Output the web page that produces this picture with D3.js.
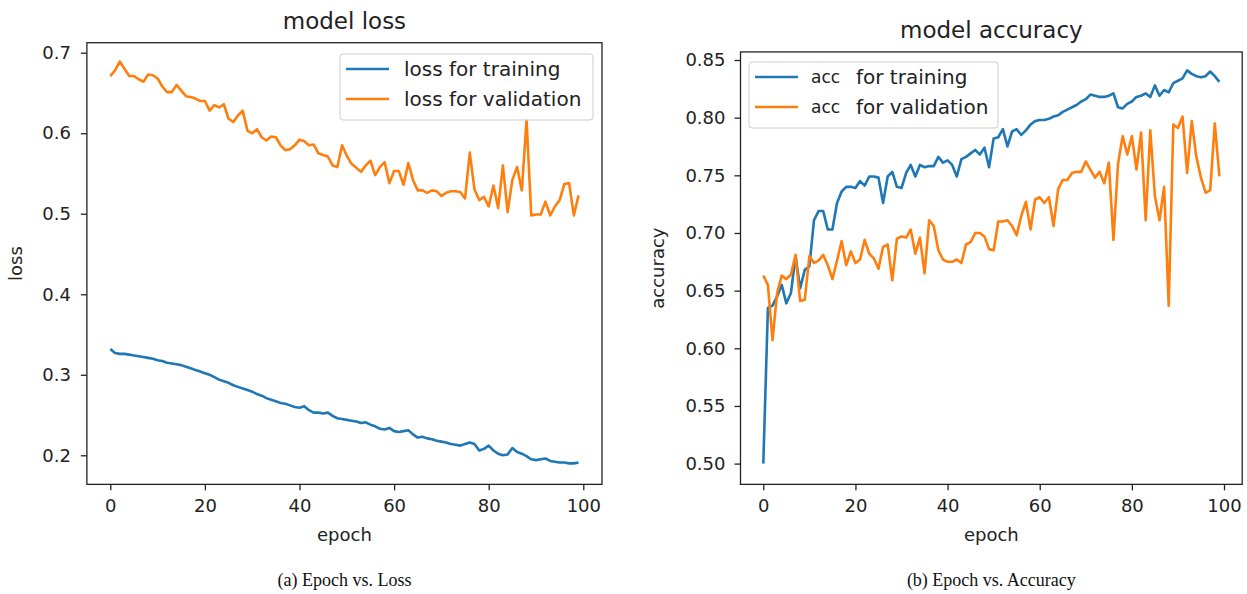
<!DOCTYPE html>
<html>
<head>
<meta charset="utf-8">
<script src="https://cdn.jsdelivr.net/npm/d3@7/dist/d3.min.js"></script>
<style>
  html, body { margin: 0; padding: 0; background: #fff; }
  svg { display: block; }
  text { font-family: "DejaVu Sans", sans-serif; fill: #222; }
  .caption { font-family: "Liberation Serif", "DejaVu Serif", serif; fill: #111; }
</style>
</head>
<body>
<svg id="chart" width="1247" height="594"></svg>
<script>
// ---------------- data ----------------
const epochs = d3.range(100);

const lossTraining = [
  0.332, 0.327, 0.326, 0.326, 0.325, 0.324, 0.323, 0.322, 0.321, 0.320,
  0.318, 0.317, 0.315, 0.314, 0.313, 0.312, 0.310, 0.308, 0.306, 0.304,
  0.302, 0.300, 0.297, 0.294, 0.292, 0.290, 0.287, 0.285, 0.283, 0.281,
  0.279, 0.276, 0.274, 0.271, 0.269, 0.267, 0.265, 0.264, 0.262, 0.260,
  0.259, 0.261, 0.256, 0.253, 0.253, 0.252, 0.253, 0.249, 0.246, 0.245,
  0.244, 0.243, 0.242, 0.240, 0.241, 0.238, 0.236, 0.233, 0.232, 0.234,
  0.230, 0.229, 0.230, 0.231, 0.226, 0.222, 0.223, 0.221, 0.220, 0.218,
  0.217, 0.216, 0.214, 0.213, 0.212, 0.214, 0.216, 0.214, 0.206, 0.208,
  0.212, 0.206, 0.202, 0.200, 0.201, 0.209, 0.204, 0.202, 0.199, 0.195,
  0.194, 0.195, 0.196, 0.193, 0.192, 0.191, 0.191, 0.190, 0.190, 0.191
];

const lossValidation = [
  0.671, 0.678, 0.689, 0.680, 0.671, 0.671, 0.667, 0.664, 0.673, 0.672,
  0.668, 0.658, 0.651, 0.651, 0.660, 0.653, 0.646, 0.645, 0.643, 0.640,
  0.640, 0.628, 0.635, 0.632, 0.636, 0.618, 0.614, 0.622, 0.628, 0.603,
  0.600, 0.605, 0.595, 0.591, 0.596, 0.595, 0.585, 0.579, 0.580, 0.585,
  0.592, 0.590, 0.585, 0.586, 0.575, 0.573, 0.571, 0.560, 0.558, 0.585,
  0.572, 0.562, 0.557, 0.552, 0.560, 0.566, 0.548, 0.558, 0.564, 0.538,
  0.553, 0.553, 0.536, 0.563, 0.542, 0.529, 0.529, 0.526, 0.529, 0.528,
  0.522, 0.526, 0.528, 0.528, 0.527, 0.519, 0.576, 0.530, 0.517, 0.521,
  0.509, 0.535, 0.507, 0.560, 0.502, 0.542, 0.558, 0.529, 0.616, 0.498,
  0.499, 0.499, 0.515, 0.498, 0.509, 0.517, 0.537, 0.538, 0.498, 0.523
];

const accTraining = [
  0.500, 0.635, 0.637, 0.645, 0.655, 0.639, 0.648, 0.680, 0.652, 0.668,
  0.671, 0.711, 0.719, 0.719, 0.703, 0.703, 0.726, 0.736, 0.740, 0.740,
  0.739, 0.745, 0.741, 0.749, 0.749, 0.748, 0.726, 0.749, 0.753, 0.740,
  0.739, 0.752, 0.759, 0.749, 0.759, 0.757, 0.758, 0.758, 0.766, 0.761,
  0.763, 0.759, 0.749, 0.764, 0.766, 0.769, 0.772, 0.768, 0.774, 0.757,
  0.782, 0.783, 0.790, 0.775, 0.788, 0.790, 0.785, 0.789, 0.794, 0.797,
  0.798, 0.798, 0.799, 0.801, 0.802, 0.805, 0.807, 0.809, 0.811, 0.814,
  0.816, 0.820, 0.819, 0.818, 0.818, 0.819, 0.821, 0.809, 0.808, 0.812,
  0.814, 0.818, 0.819, 0.821, 0.818, 0.828, 0.819, 0.824, 0.822, 0.830,
  0.832, 0.834, 0.841, 0.838, 0.836, 0.835, 0.836, 0.840, 0.836, 0.831
];

const accValidation = [
  0.663, 0.655, 0.607, 0.648, 0.663, 0.660, 0.664, 0.681, 0.641, 0.642,
  0.680, 0.674, 0.676, 0.681, 0.672, 0.660, 0.676, 0.693, 0.672, 0.684,
  0.674, 0.677, 0.694, 0.682, 0.678, 0.669, 0.688, 0.690, 0.659, 0.695,
  0.697, 0.696, 0.703, 0.682, 0.696, 0.665, 0.711, 0.706, 0.685, 0.677,
  0.675, 0.675, 0.677, 0.674, 0.690, 0.692, 0.700, 0.700, 0.697, 0.686,
  0.685, 0.710, 0.710, 0.711, 0.706, 0.698, 0.715, 0.727, 0.703, 0.729,
  0.731, 0.726, 0.731, 0.706, 0.738, 0.746, 0.746, 0.752, 0.753, 0.753,
  0.762, 0.755, 0.748, 0.753, 0.743, 0.761, 0.694, 0.760, 0.784, 0.768,
  0.784, 0.755, 0.787, 0.711, 0.789, 0.732, 0.711, 0.740, 0.637, 0.794,
  0.791, 0.801, 0.752, 0.797, 0.766, 0.748, 0.735, 0.737, 0.795, 0.749
];

const xTicks = [0, 20, 40, 60, 80, 100];
const lossTicks = [0.2, 0.3, 0.4, 0.5, 0.6, 0.7];
const accTicks = [0.50, 0.55, 0.60, 0.65, 0.70, 0.75, 0.80, 0.85];

const COLOR_TRAIN = "#1f77b4";
const COLOR_VAL = "#ff7f0e";

// ---------------- drawing ----------------
const svg = d3.select("#chart");

function drawPanel(p) {
  const x = d3.scaleLinear().domain([0, 100]).range(p.xRange);
  const y = d3.scaleLinear().domain(p.yDomain).range(p.yRange);
  const left = x(-4.95), right = x(103.95);
  const top = y(p.yFrame[1]), bottom = y(p.yFrame[0]);
  const g = svg.append("g");

  // lines
  const line = (vals) => d3.line().x((d, i) => x(epochs[i])).y(d => y(d))(vals);
  g.append("path").attr("d", line(p.train)).attr("fill", "none")
    .attr("stroke", COLOR_TRAIN).attr("stroke-width", 2.6).attr("stroke-linejoin", "round");
  g.append("path").attr("d", line(p.val)).attr("fill", "none")
    .attr("stroke", COLOR_VAL).attr("stroke-width", 2.6).attr("stroke-linejoin", "round");

  // x axis
  const xa = g.append("g").attr("transform", `translate(0,${bottom})`)
    .call(d3.axisBottom(x).tickValues(xTicks).tickSize(6).tickPadding(9).tickFormat(d3.format("d")));
  xa.select(".domain").remove();
  xa.selectAll("line").attr("stroke", "#222").attr("stroke-width", 1.3);
  xa.selectAll("text").style("font-size", "18px").style("font-family", "DejaVu Sans").attr("fill", "#222");

  // y axis
  const ya = g.append("g").attr("transform", `translate(${left},0)`)
    .call(d3.axisLeft(y).tickValues(p.yTicks).tickSize(6).tickPadding(p.yPad).tickFormat(d3.format(p.yFmt)));
  ya.select(".domain").remove();
  ya.selectAll("line").attr("stroke", "#222").attr("stroke-width", 1.3);
  ya.selectAll("text").style("font-size", "18px").style("font-family", "DejaVu Sans").attr("fill", "#222");

  // frame
  g.append("rect").attr("x", left).attr("y", top)
    .attr("width", right - left).attr("height", bottom - top)
    .attr("fill", "none").attr("stroke", "#222").attr("stroke-width", 1.3);

  const cx = (left + right) / 2;
  // title
  g.append("text").attr("x", cx).attr("y", top - 14).attr("text-anchor", "middle")
    .style("font-size", "23px").text(p.title);
  // x label
  g.append("text").attr("x", cx).attr("y", bottom + 57).attr("text-anchor", "middle")
    .style("font-size", "18px").text("epoch");
  // y label
  g.append("text").attr("transform", `translate(${p.yLabelX},${(top + bottom) / 2}) rotate(-90)`)
    .attr("text-anchor", "middle").style("font-size", "18px").text(p.yLabel);
  // caption
  g.append("text").attr("class", "caption").attr("x", cx).attr("y", 586).attr("text-anchor", "middle")
    .style("font-size", "18px").text(p.caption);

  // legend
  const L = p.legend;
  g.append("rect").attr("x", L.x).attr("y", L.y).attr("width", L.w).attr("height", L.h)
    .attr("rx", 3).attr("fill", "#fff").attr("fill-opacity", 0.8)
    .attr("stroke", "#ccc").attr("stroke-width", 1);
  L.items.forEach((it, i) => {
    const ry = L.y + L.row0 + i * L.rowGap;
    g.append("line").attr("x1", L.x + 6).attr("x2", L.x + 49).attr("y1", ry).attr("y2", ry)
      .attr("stroke", it.color).attr("stroke-width", 2.6);
    if (it.prefix) {
      g.append("text").attr("x", L.x + 62).attr("y", ry).attr("dy", "0.35em")
        .style("font-size", "17px").attr("fill", "#555").text(it.prefix);
      g.append("text").attr("x", L.x + 107).attr("y", ry).attr("dy", "0.35em")
        .style("font-size", "20px").text(it.label);
    } else {
      g.append("text").attr("x", L.x + 64).attr("y", ry).attr("dy", "0.35em")
        .style("font-size", "20px").text(it.label);
    }
  });
}

drawPanel({
  xRange: [110.3, 583.3],
  yDomain: [0.2, 0.7], yRange: [455.3, 52.7], yFrame: [0.1639, 0.7124],
  yTicks: lossTicks, yFmt: ".1f", yPad: 10,
  train: lossTraining, val: lossValidation,
  title: "model loss", yLabel: "loss", yLabelX: 22,
  caption: "(a) Epoch vs. Loss",
  legend: { x: 340, y: 54, w: 253, h: 66, row0: 15, rowGap: 30,
    items: [ { color: COLOR_TRAIN, label: "loss for training" },
             { color: COLOR_VAL, label: "loss for validation" } ] }
});

drawPanel({
  xRange: [763.3, 1224],
  yDomain: [0.5, 0.85], yRange: [463.6, 60], yFrame: [0.482, 0.857],
  yTicks: accTicks, yFmt: ".2f", yPad: 9,
  train: accTraining, val: accValidation,
  title: "model accuracy", yLabel: "accuracy", yLabelX: 664,
  caption: "(b) Epoch vs. Accuracy",
  legend: { x: 749, y: 62, w: 249, h: 66, row0: 15, rowGap: 30,
    items: [ { color: COLOR_TRAIN, prefix: "acc", label: "for training" },
             { color: COLOR_VAL, prefix: "acc", label: "for validation" } ] }
});
</script>
</body>
</html>
